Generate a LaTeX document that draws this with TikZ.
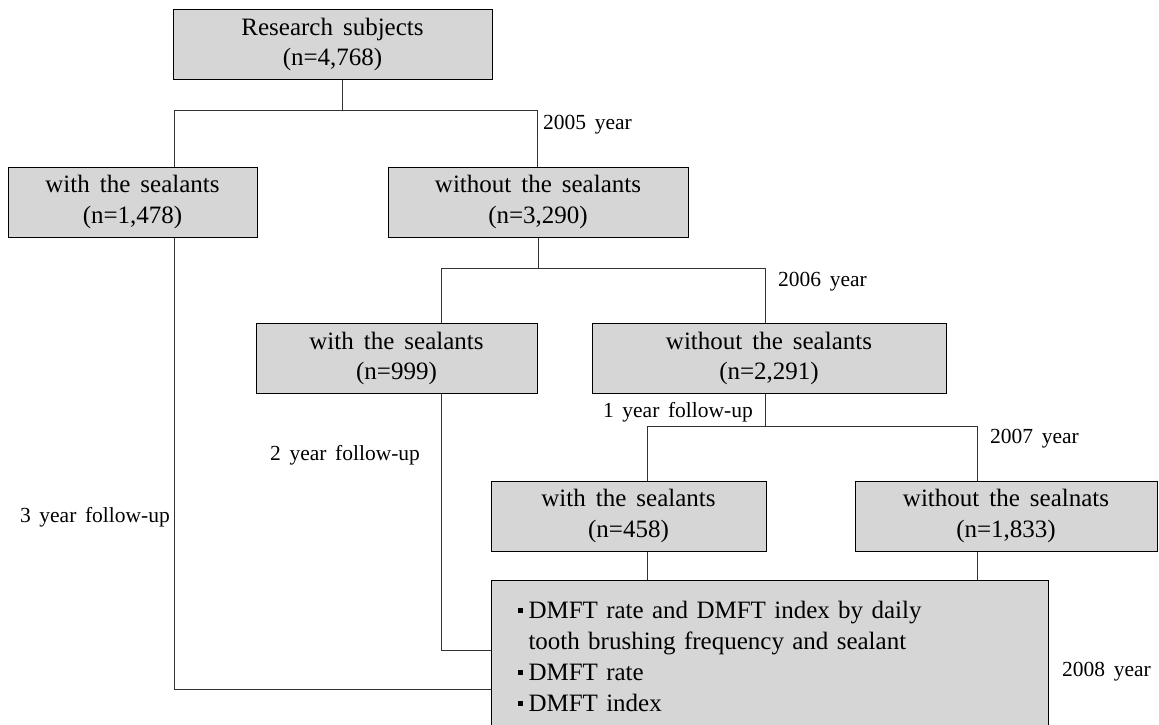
\documentclass[tikz,border=0pt]{standalone}
\usepackage{fontspec}
\setmainfont{Liberation Serif}[WordSpace=1.6]
\usetikzlibrary{%
	positioning,
	calc
}
\newcommand{\sqbul}{\makebox[11pt][l]{\rule[5.5pt]{5pt}{5pt}}}

\begin{document}
\begin{tikzpicture}[x=1pt,y=-1pt,
		SBox/.style={draw=black,fill=gray!32,line width=1pt,align=center,minimum height=70pt,inner sep=2pt,font={\fontsize{25}{30.5}\selectfont}},
		SResult/.style={draw=black,fill=gray!32,line width=1pt,anchor=north west,minimum width=557pt,minimum height=152pt,text width=505pt,inner xsep=26pt,inner ysep=0pt,align=left,font={\fontsize{25}{31}\selectfont}},
		SLabel/.style={inner sep=0pt,font={\fontsize{21.5}{26}\selectfont}},
		conn/.style={draw=black!80,line width=1pt}
	]
	\useasboundingbox (0,0) rectangle (1159,725);
	
		%research subjects
		\node(sub) [SBox, minimum width=319pt] at (332.5,44.5) {Research subjects\\(n=4,768)};
		
		%2005
		\node(w05) [SBox, minimum width=249pt] at (132.5,202) {with the sealants\\(n=1,478)};
		\node(wo05) [SBox, minimum width=300pt] at (538,202) {without the sealants\\(n=3,290)};
		\coordinate (j05m) at (342,110);
		\coordinate (j05l) at (174,110);
		\coordinate (j05r) at (537,110);
		\node(l05) [SLabel, anchor=west] at (543,125) {2005 year};
		
		%2006
		\node(w06) [SBox, minimum width=281pt] at (396.5,358.5) {with the sealants\\(n=999)};
		\node(wo06) [SBox, minimum width=354pt] at (769,358.5) {without the sealants\\(n=2,291)};
		\coordinate (j06l) at (441,268);
		\coordinate (j06r) at (765,268);
		\node(l06) [SLabel, anchor=west] at (778,282) {2006 year};
		
		%2007
		\node(w07) [SBox, minimum width=275pt] at (628.5,516) {with the sealants\\(n=458)};
		\node(wo07) [SBox, minimum width=302pt] at (1006,516) {without the sealnats\\(n=1,833)};
		\coordinate (j07m) at (765,426);
		\coordinate (j07l) at (647,426);
		\coordinate (j07r) at (977,426);
		\node(l07) [SLabel, anchor=west] at (990,439) {2007 year};
		\node(f1) [SLabel, anchor=east] at (753,412) {1 year follow-up};
		
		%2008
		\node(dmft) [SResult] at (491,580) {\sqbul DMFT rate and DMFT index by daily\\
			\hphantom{\sqbul}tooth brushing frequency and sealant\\
			\sqbul DMFT rate\\
			\sqbul DMFT index};
		\coordinate (e2) at (441,650);
		\coordinate (e3) at (174,689);
		\node(l08) [SLabel, anchor=west] at (1062,672) {2008 year};
		\node(f2) [SLabel, anchor=west] at (270,455) {2 year follow-up};
		\node(f3) [SLabel, anchor=east] at (170,517) {3 year follow-up};
		
		%connectors
		\draw [conn] (sub.south -| j05m) -- (j05m);
		\draw [conn] (w05.north -| j05l) -- (j05l) -- (j05r) -- (wo05.north -| j05r);
		\draw [conn] (wo05.south) -- (wo05.south |- j06l);
		\draw [conn] (w06.north -| j06l) -- (j06l) -- (j06r) -- (wo06.north -| j06r);
		\draw [conn] (wo06.south -| j07m) -- (j07m);
		\draw [conn] (w07.north -| j07l) -- (j07l) -- (j07r) -- (wo07.north -| j07r);
		\draw [conn] (w07.south -| j07l) -- (dmft.north -| j07l);
		\draw [conn] (wo07.south -| j07r) -- (dmft.north -| j07r);
		\draw [conn] (w06.south -| e2) -- (e2) -- (dmft.west |- e2);
		\draw [conn] (w05.south -| e3) -- (e3) -- (dmft.west |- e3);
		
	\end{tikzpicture}
\end{document}
